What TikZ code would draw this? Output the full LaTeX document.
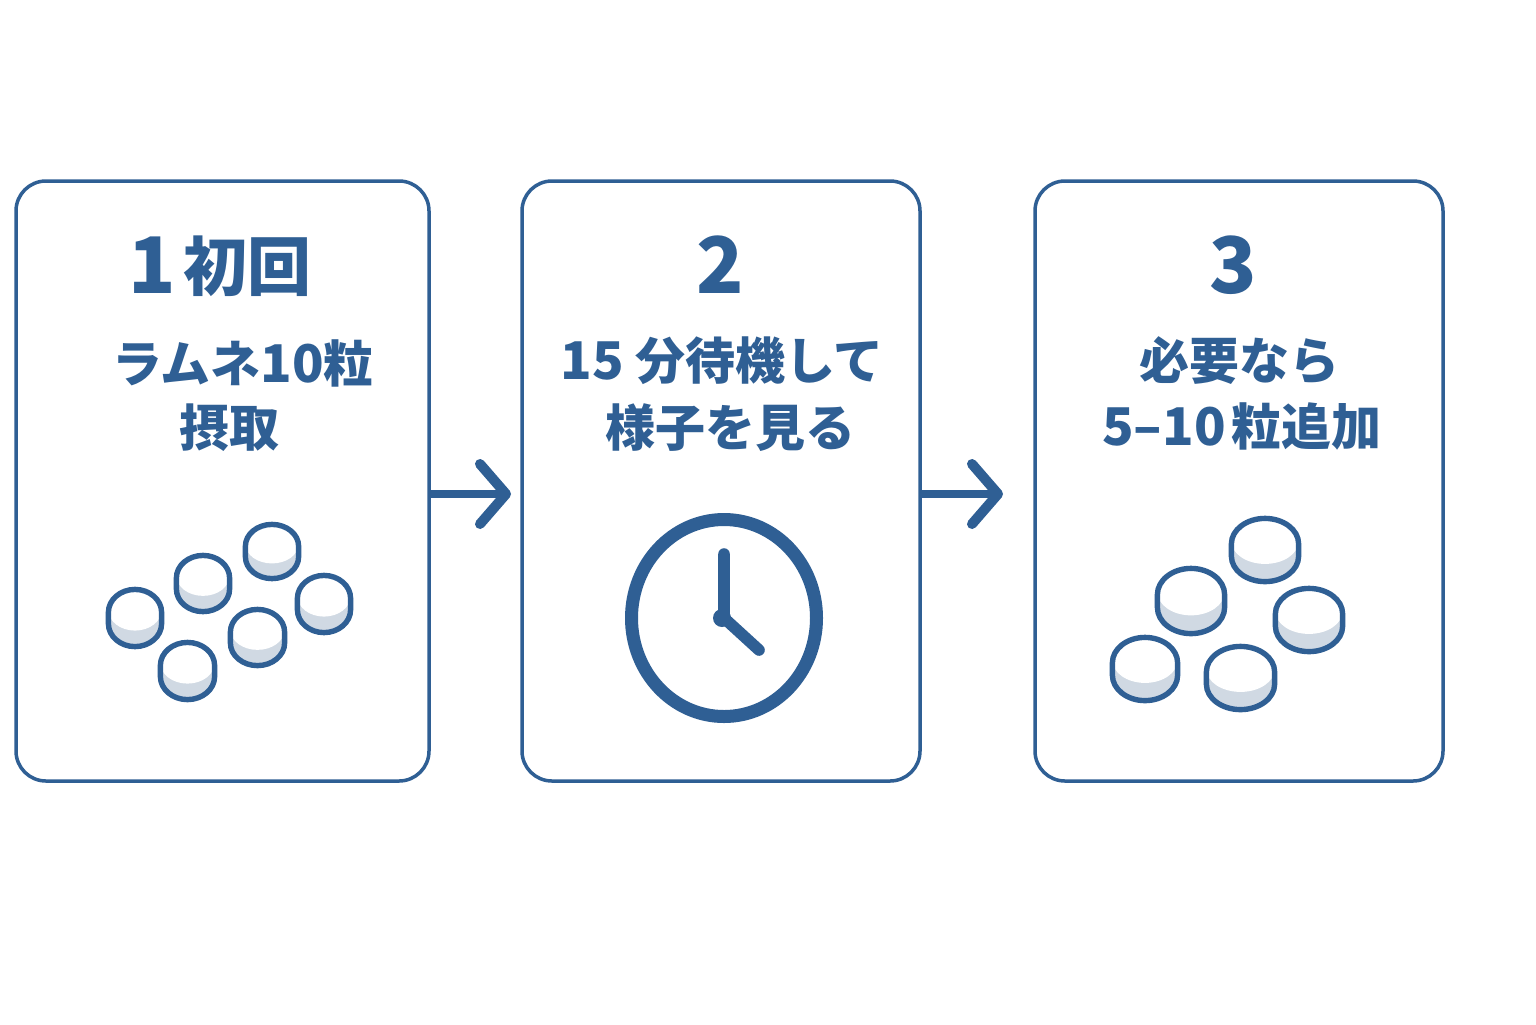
\documentclass[tikz,border=0pt]{standalone}
\usepackage{fontspec}
\newfontfamily\cjk{Noto Sans CJK JP}
\usetikzlibrary{arrows.meta,calc,shapes.geometric}
\definecolor{ink}{HTML}{2F5F94}
\definecolor{pillgrey}{HTML}{D0D9E3}
\newcommand{\dg}[1]{{\fontsize{26}{24}\selectfont #1}}
\tikzset{
  x=0.5pt,y=-0.5pt,
  card/.style={draw=ink,line width=1.75pt,rounded corners=15pt,fill=white,minimum width=#1,inner sep=0pt,minimum height=300pt},
  bigtxt/.style={text=ink,font=\cjk\bfseries\fontsize{32}{32}\selectfont,inner sep=0pt},
  bignum/.style={text=ink,font=\cjk\bfseries\fontsize{39}{41}\selectfont,inner sep=0pt},
  smalltxt/.style={text=ink,font=\cjk\bfseries\fontsize{25}{26}\selectfont,inner sep=0pt},
  flow/.style={draw=ink,line width=4pt,line cap=butt,-{Straight Barb[length=13pt,width=30pt,round,line width=5pt]}},
  clockring/.style={draw=ink,line width=6.5pt,fill=white,ellipse,minimum width=185*0.5pt,minimum height=197*0.5pt,inner sep=0pt},
  hand/.style={draw=ink,line width=5.8pt,line cap=round,line join=round},
}
% left, right, top, bottom in picture units
\newcommand{\pilltab}[4]{%
  \pgfmathsetmacro{\pcx}{(#1+#2)/2}\pgfmathsetmacro{\prx}{(#2-#1)/2-2.4}%
  \pgfmathsetmacro{\ph}{#4-#3-4.8}\pgfmathsetmacro{\ptop}{#3+2.4}%
  \pgfmathsetmacro{\pry}{0.40*\ph}%
  \pgfmathsetmacro{\pa}{\ptop+\pry}\pgfmathsetmacro{\pb}{\ptop+\ph-\pry}%
  \pgfmathsetmacro{\pl}{\pcx-\prx}\pgfmathsetmacro{\pr}{\pcx+\prx}%
  \pgfmathsetmacro{\pec}{\ptop+0.36*\ph}\pgfmathsetmacro{\pery}{0.36*\ph}%
  \def\pillpath{(\pl,\pb) -- (\pl,\pa) .. controls (\pl,\ptop+0.45*\pry) and (\pcx-0.55*\prx,\ptop) .. (\pcx,\ptop) .. controls (\pcx+0.55*\prx,\ptop) and (\pr,\ptop+0.45*\pry) .. (\pr,\pa) -- (\pr,\pb) .. controls (\pr,\ptop+\ph-0.45*\pry) and (\pcx+0.55*\prx,\ptop+\ph) .. (\pcx,\ptop+\ph) .. controls (\pcx-0.55*\prx,\ptop+\ph) and (\pl,\ptop+\ph-0.45*\pry) .. (\pl,\pb) -- cycle}%
  \fill[pillgrey] \pillpath;
  \fill[white] (\pcx,\pec) ellipse [x radius=\prx*0.5pt,y radius=\pery*0.5pt];
  \draw[ink,line width=2.7pt,line join=round] \pillpath;
}
\begin{document}
\begin{tikzpicture}
\useasboundingbox (0,0) rectangle (1536,1024);
\fill[white] (0,0) rectangle (1536,1024);
\node[card=206.5pt] (box1) at (222.5,481) {};
\node[card=199pt] (box2) at (721,481) {};
\node[card=204pt] (box3) at (1239,481) {};

\coordinate (a1s) at (box1.east |- 0,494);
\coordinate (a1e) at (511,494);
\coordinate (a2s) at (box2.east |- 0,494);
\coordinate (a2e) at (1003,494);
\draw[flow] (a1s) -- (a1e);
\draw[flow] (a2s) -- (a2e);

\node[bignum] (n1) at (152,265) {1};
\node[bigtxt] (t1) at (247,266) {初回};
\node[bignum] (n2) at (720,265) {2};
\node[bignum] (n3) at (1233,265) {3};

\node[smalltxt] (l1a) at (243,363) {ラムネ\dg{10}粒};
\node[smalltxt] (l1b) at (229,428) {摂取};
\node[smalltxt] (l2a) at (722,361) {\dg{15} 分待機して};
\node[smalltxt] (l2b) at (730,428) {様子を見る};
\node[smalltxt] (l3a) at (1239,361) {必要なら};
\node[smalltxt] (l3b) at (1242,426) {\dg{5–10}\hspace{0.12em}粒追加};

\pilltab{106}{164}{587}{649}
\pilltab{174}{232}{553}{614}
\pilltab{243}{301}{522}{581}
\pilltab{295}{353}{573}{635}
\pilltab{228}{287}{607}{668}
\pilltab{158}{217}{640}{702}

\node[clockring] (clock) at (724,618) {};
\coordinate (c12) at (724,554);
\coordinate (c4) at (759,650);
\draw[hand] (c12) -- (clock.center) -- (c4);
\fill[ink] (clock.center) ++(-2,0) circle (4.5pt);

\pilltab{1229}{1301}{516}{584}
\pilltab{1155}{1227}{566}{636}
\pilltab{1273}{1345}{586}{654}
\pilltab{1110}{1180}{635}{703}
\pilltab{1204}{1277}{644}{712}
\end{tikzpicture}
\end{document}
